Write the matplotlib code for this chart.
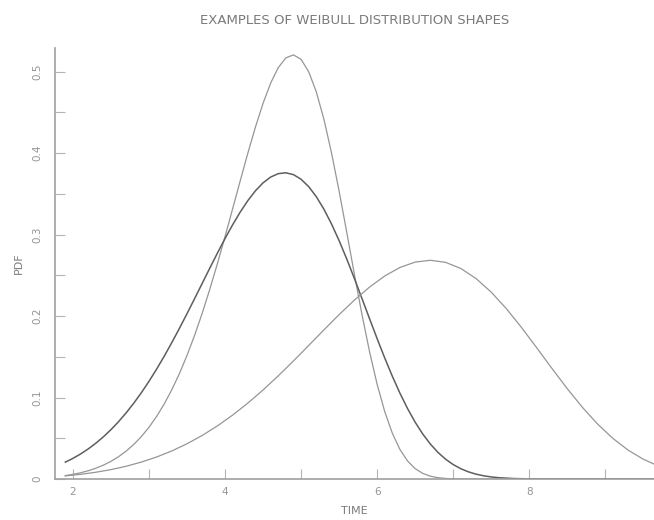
import matplotlib
matplotlib.use("Agg")
import matplotlib.pyplot as plt
from matplotlib.ticker import MultipleLocator

# values
x_narrow = [1.9, 2.0, 2.1, 2.2, 2.3, 2.4, 2.5, 2.6, 2.7, 2.8,
            2.9, 3.0, 3.1, 3.2, 3.3, 3.4, 3.5, 3.6, 3.7, 3.8,
            3.9, 4.0, 4.1, 4.2, 4.3, 4.4, 4.5, 4.6, 4.7, 4.8,
            4.9, 5.0, 5.1, 5.2, 5.3, 5.4, 5.5, 5.6, 5.7, 5.8,
            5.9, 6.0, 6.1, 6.2, 6.3, 6.4, 6.5, 6.6, 6.7, 6.8,
            6.9, 7.0, 7.1, 7.2, 7.3, 7.4, 7.5, 7.6, 7.8, 8.0, 9.7]
pdf_tall = [0.00421, 0.00573, 0.00767, 0.01013, 0.01321, 0.01702, 0.02170, 0.02740, 0.03425, 0.04244,
            0.05213, 0.06352, 0.07677, 0.09207, 0.10957, 0.12941, 0.15169, 0.17642, 0.20358, 0.23303,
            0.26449, 0.29757, 0.33171, 0.36615, 0.39997, 0.43205, 0.46117, 0.48595, 0.50498, 0.51692,
            0.52054, 0.51504, 0.49983, 0.47515, 0.44151, 0.40029, 0.35332, 0.30294, 0.25167, 0.20205,
            0.15631, 0.11616, 0.08265, 0.05610, 0.03620, 0.02211, 0.01273, 0.00687, 0.00346, 0.00162,
            0.00070, 0.00028, 0.00010, 0.00003, 0.00001, 0.0, 0.0, 0.0, 0.0, 0.0, 0.0]
pdf_mid = [0.02069, 0.02534, 0.03071, 0.03687, 0.04386, 0.05175, 0.06058, 0.07039, 0.08122, 0.09308,
           0.10598, 0.11990, 0.13483, 0.15069, 0.16741, 0.18488, 0.20295, 0.22146, 0.24019, 0.25891,
           0.27733, 0.29515, 0.31206, 0.32770, 0.34173, 0.35378, 0.36353, 0.37062, 0.37479, 0.37583,
           0.37357, 0.36788, 0.35884, 0.34654, 0.33116, 0.31302, 0.29251, 0.27008, 0.24628, 0.22165,
           0.19679, 0.17221, 0.14848, 0.12604, 0.10526, 0.08642, 0.06971, 0.05519, 0.04287, 0.03263,
           0.02432, 0.01773, 0.01264, 0.00880, 0.00598, 0.00396, 0.00255, 0.00160, 0.00058, 0.00018, 0.0]

x_wide = [1.9, 2.1, 2.3, 2.5, 2.7, 2.9, 3.1, 3.3, 3.5, 3.7,
          3.9, 4.1, 4.3, 4.5, 4.7, 4.9, 5.1, 5.3, 5.5, 5.7,
          5.9, 6.1, 6.3, 6.5, 6.7, 6.9, 7.1, 7.3, 7.5, 7.7,
          7.9, 8.1, 8.3, 8.5, 8.7, 8.9, 9.1, 9.3, 9.5, 9.7]
pdf_wide = [0.00387, 0.00577, 0.00829, 0.01155, 0.01568, 0.02079, 0.02701, 0.03447, 0.04327, 0.05350,
            0.06523, 0.07847, 0.09319, 0.10931, 0.12665, 0.14497, 0.16391, 0.18303, 0.20178, 0.21953,
            0.23559, 0.24920, 0.25966, 0.26627, 0.26847, 0.26591, 0.25840, 0.24608, 0.22937, 0.20894,
            0.18572, 0.16086, 0.13550, 0.11082, 0.08783, 0.06732, 0.04979, 0.03546, 0.02426, 0.01591]

title = "EXAMPLES OF WEIBULL DISTRIBUTION SHAPES"
ink = "#7a7a7a"

fig = plt.figure(figsize=(6.54, 5.2), dpi=100)
ax = fig.add_axes([0.0836, 0.0788, 0.9164, 0.8289])

ax.plot(x_narrow, pdf_tall, color="#969696", lw=0.9)
ax.plot(x_narrow, pdf_mid, color="#5e5e5e", lw=1.1)
ax.plot(x_wide, pdf_wide, color="#969696", lw=0.9)

ax.set_xlim(1.76, 9.64)
ax.set_ylim(0, 0.529)

for side in ("top", "right"):
    ax.spines[side].set_visible(False)
for side in ("left", "bottom"):
    ax.spines[side].set_color("#a0a0a0")
    ax.spines[side].set_linewidth(1.2)

ax.xaxis.set_major_locator(MultipleLocator(2))
ax.xaxis.set_minor_locator(MultipleLocator(1))
ax.yaxis.set_major_locator(MultipleLocator(0.1))
ax.yaxis.set_minor_locator(MultipleLocator(0.05))
ax.tick_params(which="both", direction="in", length=7, width=0.8,
               color="#b4b4b4", labelcolor="#959595", labelsize=7.5)
ax.tick_params(axis="x", pad=6)
ax.tick_params(axis="y", pad=9)
ax.set_yticks([0, 0.1, 0.2, 0.3, 0.4, 0.5])
ax.set_yticklabels(["0", "0.1", "0.2", "0.3", "0.4", "0.5"], rotation=90, va="center")

ax.set_xlabel("TIME", color=ink, fontsize=8, labelpad=6)
ax.set_ylabel("PDF", color=ink, fontsize=8, labelpad=6)
ax.set_title(title, color=ink, fontsize=9.5, pad=17)

fig.savefig("out.png", dpi=100)
